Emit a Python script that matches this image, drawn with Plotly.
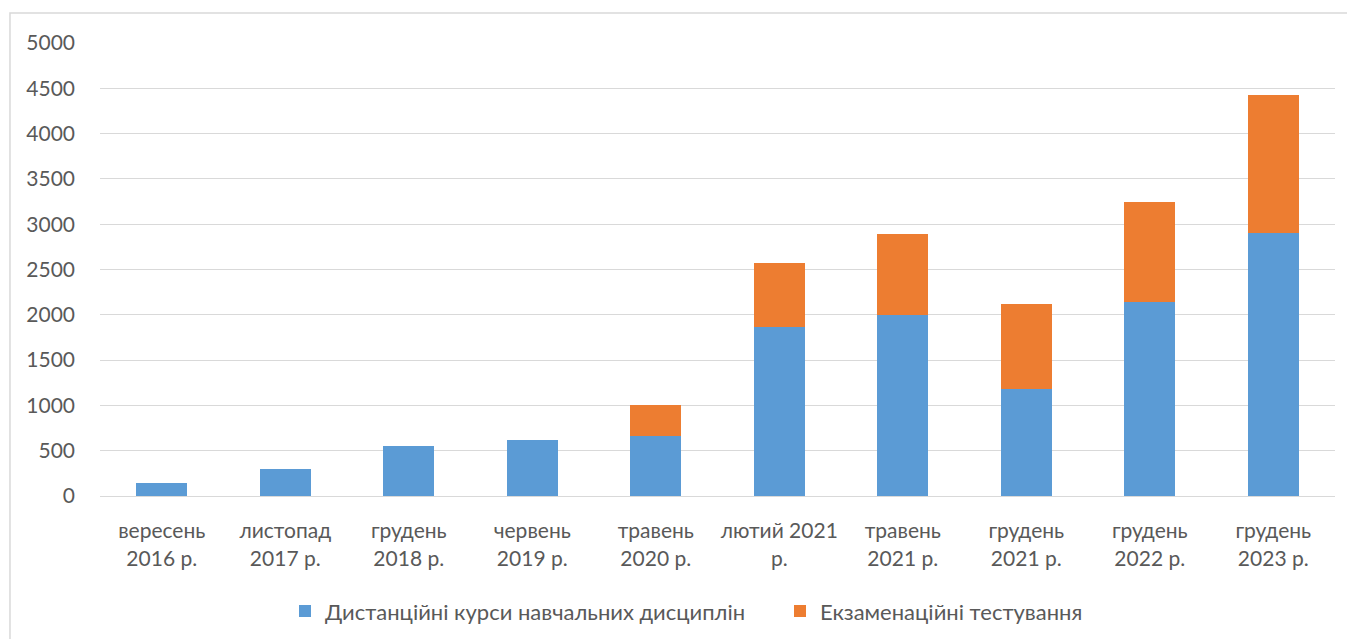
import plotly.graph_objects as go

categories = ["вересень<br>2016 р.", "листопад<br>2017 р.", "грудень<br>2018 р.", "червень<br>2019 р.",
              "травень<br>2020 р.", "лютий 2021<br>р.", "травень<br>2021 р.", "грудень<br>2021 р.",
              "грудень<br>2022 р.", "грудень<br>2023 р."]
courses = [140, 295, 550, 620, 665, 1870, 2000, 1185, 2140, 2900]
exams = [0, 0, 0, 0, 335, 700, 890, 930, 1105, 1525]
series_names = ["Дистанційні курси навчальних дисциплін", "Екзаменаційні тестування"]
y_ticks = [0, 500, 1000, 1500, 2000, 2500, 3000, 3500, 4000, 4500, 5000]

FONT = "Lato, Open Sans, sans-serif"
TXT = "#595959"

fig = go.Figure()
fig.add_trace(go.Bar(x=categories, y=courses, name=series_names[0], marker_color="#5B9BD5",
                     marker_line_width=0))
fig.add_trace(go.Bar(x=categories, y=exams, name=series_names[1], marker_color="#ED7D31",
                     marker_line_width=0))

fig.update_layout(
    barmode="stack",
    bargap=0.59,
    width=1355, height=639,
    paper_bgcolor="white", plot_bgcolor="white",
    # page body has an 8px default margin; offsets compensate for it
    margin=dict(l=92, r=28, t=35, b=151, autoexpand=False),
    font=dict(family=FONT, size=21, color=TXT),
    legend=dict(orientation="h", x=0.1498, xanchor="left", y=-0.208, yanchor="top",
                font=dict(size=22, color=TXT), traceorder="normal", itemwidth=30,
                entrywidth=450, entrywidthmode="pixels"),
    shapes=[dict(type="rect", xref="paper", yref="paper", x0=-0.0729, x1=1.1, y0=-0.40, y1=1.066,
                 line=dict(color="#D9D9D9", width=1.5), fillcolor="rgba(0,0,0,0)", layer="below")],
)
fig.update_yaxes(range=[0, 5000], tickvals=y_ticks, showgrid=True, gridcolor="#D9D9D9", gridwidth=1.3,
                 zeroline=False, showline=False, ticks="", ticklabelstandoff=24,
                 tickfont=dict(size=21, color=TXT))
fig.update_xaxes(showline=True, linecolor="#D9D9D9", linewidth=1.3, ticks="",
                 tickfont=dict(size=21, color=TXT), tickangle=0, ticklabelstandoff=16)

fig.write_html("out.html")
